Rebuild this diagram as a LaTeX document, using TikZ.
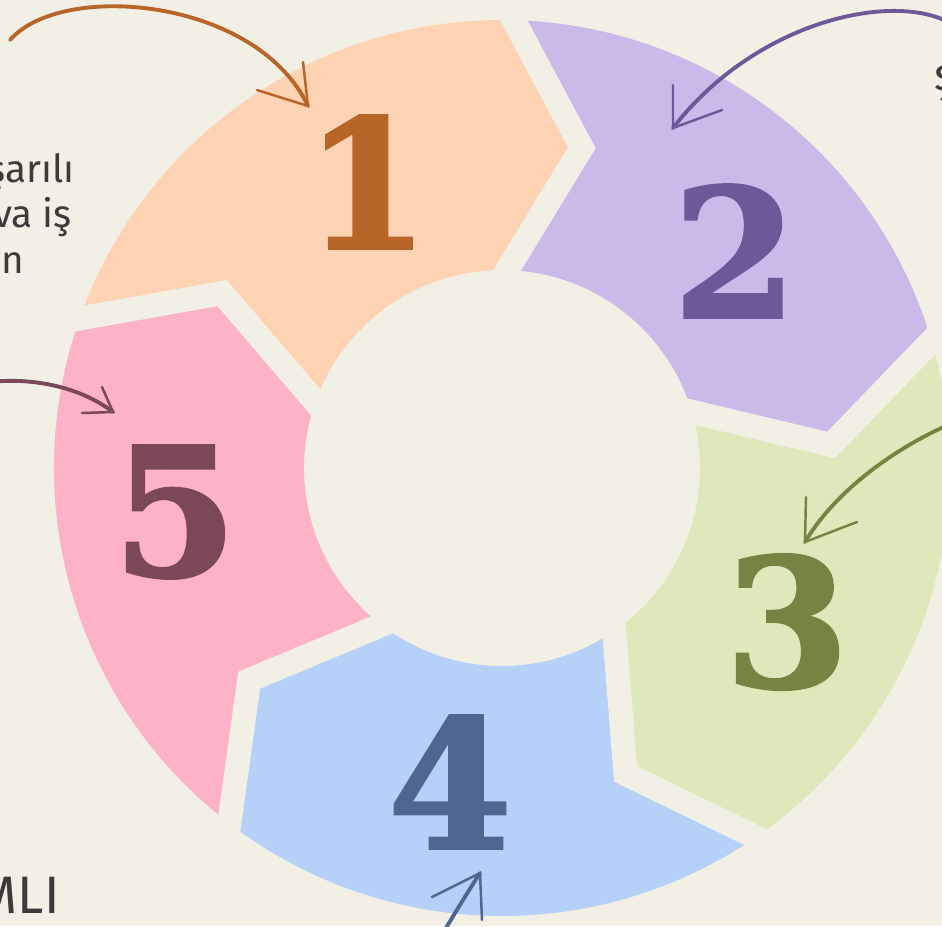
\documentclass[tikz,border=0pt]{standalone}
\usepackage{fontspec}
\usepackage{tikz}
\newfontfamily\numfont{DejaVu Serif}[BoldFeatures={FakeBold=1.5}]
\newfontfamily\handfont{Fira Sans}

\definecolor{paper}{HTML}{F2EFE5}
\definecolor{ink}{HTML}{3F3A3A}
\definecolor{peach}{HTML}{FDD3B4}
\definecolor{lav}{HTML}{CBB9E9}
\definecolor{lime}{HTML}{DFE8BB}
\definecolor{sky}{HTML}{B6D1F8}
\definecolor{rose}{HTML}{FDB2C5}
\definecolor{peachink}{HTML}{B8652A}
\definecolor{lavink}{HTML}{6E5898}
\definecolor{limeink}{HTML}{768443}
\definecolor{skyink}{HTML}{4F6790}
\definecolor{roseink}{HTML}{7A4856}

\begin{document}
\begin{tikzpicture}[
    gap/.style={draw=paper, line width=0.48cm, line join=miter, line cap=rect},
    num/.style={inner sep=0pt, font=\numfont\bfseries\fontsize{102}{102}\selectfont},
    hand/.style={line width=2.2pt, line cap=round, line join=round},
    barb/.style={line width=1.4pt, line cap=round},
    note/.style={inner sep=0pt, text=ink, font=\handfont\fontsize{22}{26}\selectfont}
]

\useasboundingbox (-10.04,-9.16) rectangle (8.8,9.36);
\clip (-10.04,-9.16) rectangle (8.8,9.36);
\fill[paper] (-10.04,-9.16) rectangle (8.8,9.36);

% Define ring pieces
\foreach \h/\col in {88.5/peach, 16.5/lav, -55.5/lime, -127.5/sky, -199.5/rose} {
    \pgfmathsetmacro\ta{\h+72}
    \fill[\col] (\ta:8.96) arc[start angle=\ta, end angle=\h, radius=8.96]
        -- (\h-12.5:6.6) -- (\h:3.96)
        arc[start angle=\h, end angle=\ta, radius=3.96]
        -- (\ta-12.5:6.6) -- cycle;
}

% Define gaps
\foreach \h in {88.5, 16.5, -55.5, -127.5, -199.5}
    \draw[gap] (\h:8.96) -- (\h-12.5:6.6) -- (\h:3.96);

% Define numbers
\node[num, text=peachink] (n1) at (-2.7, 5.72) {1};
\node[num, text=lavink] (n2) at (4.66, 4.34) {2};
\node[num, text=limeink] (n3) at (5.7, -3.08) {3};
\node[num, text=skyink] (n4) at (-1.04, -6.28) {4};
\node[num, text=roseink] (n5) at (-6.54, -0.88) {5};

% Define notes
\node[note, anchor=base east] (t1) at (-8.54, 5.72) {şarılı};
\node[note, anchor=base east] (t2) at (-8.6, 4.82) {va iş};
\node[note, anchor=base east] (t3) at (-9.54, 3.9) {in};
\node[note, anchor=base east, font=\handfont\fontsize{30}{36}\selectfont] (t4) at (-8.84, -8.9) {MLI};
\node[note, anchor=base west, font=\handfont\fontsize{26}{30}\selectfont] (t5) at (8.64, 7.56) {ş};

% Define arrow ends
\coordinate (a1s) at (-9.84, 8.56);
\coordinate (a1t) at (-3.88, 7.24);
\coordinate (a1l) at (-3.98, 8.12);
\coordinate (a1r) at (-4.9, 7.56);
\coordinate (a2s) at (9.16, 8.76);
\coordinate (a2t) at (3.42, 6.8);
\coordinate (a2l) at (3.42, 7.66);
\coordinate (a2r) at (4.4, 7.16);
\coordinate (a3s) at (9.16, 0.96);
\coordinate (a3t) at (6.06, -1.48);
\coordinate (a3l) at (6.08, -0.58);
\coordinate (a3r) at (7.1, -1.08);
\coordinate (a4s) at (-1.3, -9.5);
\coordinate (a4t) at (-0.44, -8.1);
\coordinate (a4l) at (-1.4, -8.58);
\coordinate (a4r) at (-0.4, -9.04);
\coordinate (a5s) at (-10.4, 1.7);
\coordinate (a5t) at (-7.78, 1.12);
\coordinate (a5l) at (-8.0, 1.62);
\coordinate (a5r) at (-8.4, 1.1);

% Define arrows
\draw[hand, peachink] (a1s) .. controls (-8.8, 9.75) and (-4.9, 9.4) .. (a1t);
\draw[barb, peachink] (a1l) -- (a1t) -- (a1r);
\draw[hand, lavink] (a2s) .. controls (8.2, 9.6) and (5.2, 9.1) .. (a2t);
\draw[barb, lavink] (a2l) -- (a2t) -- (a2r);
\draw[hand, limeink] (a3s) .. controls (8.0, 0.5) and (6.7, -0.4) .. (a3t);
\draw[barb, limeink] (a3l) -- (a3t) -- (a3r);
\draw[hand, skyink] (a4s) .. controls (-1.0, -9.0) and (-0.7, -8.5) .. (a4t);
\draw[barb, skyink] (a4l) -- (a4t) -- (a4r);
\draw[hand, roseink] (a5s) .. controls (-9.4, 1.85) and (-8.4, 1.6) .. (a5t);
\draw[barb, roseink] (a5l) -- (a5t) -- (a5r);

\end{tikzpicture}
\end{document}
